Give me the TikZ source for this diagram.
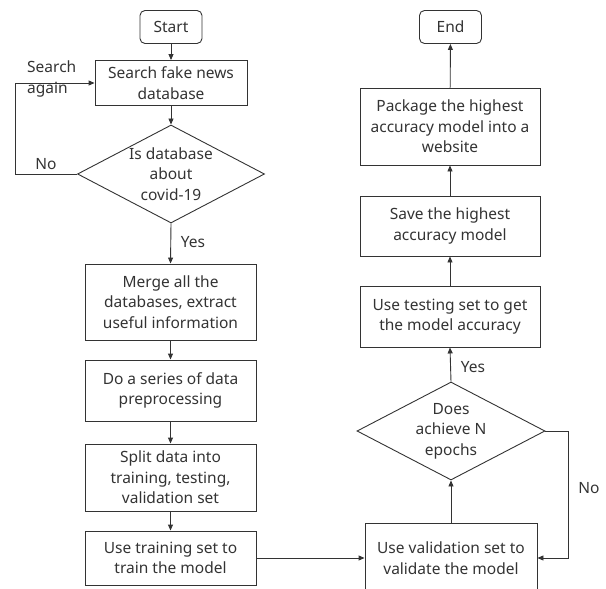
\documentclass[tikz,border=0pt]{standalone}
\usepackage{fontspec}
\setmainfont{Noto Sans}
\usetikzlibrary{shapes.geometric,arrows.meta}
\definecolor{ink}{HTML}{333333}
\begin{document}
\begin{tikzpicture}[x=1pt,y=-1pt,
  every node/.style={text=ink,font=\fontsize{15.5}{20.5}\selectfont},
  box/.style={draw=ink,line width=0.9pt,align=center,inner sep=0pt},
  term/.style={box,rounded corners=5pt,minimum width=62pt,minimum height=33pt},
  dia/.style={draw=ink,line width=0.9pt,diamond,inner sep=0pt},
  lbl/.style={inner sep=0pt,align=left},
  arr/.style={draw=ink,line width=0.9pt,-{Triangle[length=6pt,width=5pt]}}]
\useasboundingbox (0,0) rectangle (606,589);
% left column
\node[term] (start) at (171,27) {Start};
\node[box,minimum width=152pt,minimum height=45pt] (search) at (171,83) {Search fake news\\database};
\node[dia,minimum width=187pt,minimum height=98pt] (d1) at (171,174) {};
\node[align=center,inner sep=0pt] (d1t) at (171,174) {Is database\\about\\covid-19};
\node[box,minimum width=171pt,minimum height=76pt] (merge) at (170.5,302) {Merge all the\\databases, extract\\useful information};
\node[box,minimum width=171pt,minimum height=61pt] (prep) at (170.5,390.5) {Do a series of data\\preprocessing};
\node[box,minimum width=171pt,minimum height=67pt] (split) at (170.5,477.5) {Split data into\\training, testing,\\validation set};
\node[box,minimum width=171pt,minimum height=54pt] (train) at (170.5,558) {Use training set to\\train the model};
% right column
\node[term] (end) at (450.5,27) {End};
\node[box,minimum width=180pt,minimum height=77pt] (pack) at (450,126.5) {Package the highest\\accuracy model into a\\website};
\node[box,minimum width=180pt,minimum height=60pt] (save) at (450,226) {Save the highest\\accuracy model};
\node[box,minimum width=180pt,minimum height=61pt] (test) at (450,316.5) {Use testing set to get\\the model accuracy};
\node[dia,minimum width=188pt,minimum height=98pt] (d2) at (451,431) {};
\node[align=center,inner sep=0pt] (d2t) at (451,431) {Does\\achieve N\\epochs};
\node[box,minimum width=172pt,minimum height=70pt] (val) at (451,558) {Use validation set to\\validate the model};
% coordinates
\coordinate (lp) at (15,174);
\coordinate (rp) at (568,431);
% connectors
\draw[arr] (start) -- (search);
\draw[arr] (search) -- (d1);
\draw[arr] (d1.west) -- (lp) |- (search.west);
\draw[arr] (d1.south) -- (merge.north);
\draw[arr] (merge) -- (prep);
\draw[arr] (prep) -- (split);
\draw[arr] (split) -- (train);
\draw[arr] (train.east) -- (val.west);
\draw[arr] (val.north) -- (d2.south);
\draw[arr] (d2.east) -- (rp) |- (val.east);
\draw[arr] (d2.north) -- (test.south);
\draw[arr] (test) -- (save);
\draw[arr] (save) -- (pack);
\draw[arr] (pack) -- (end);
% labels
\node[lbl,anchor=west] (sa) at (27,79) {Search\\again};
\node[lbl] (no1) at (46,164) {No};
\node[lbl] (yes1) at (193,242) {Yes};
\node[lbl] (yes2) at (473,367) {Yes};
\node[lbl] (no2) at (589,488) {No};
\end{tikzpicture}
\end{document}
